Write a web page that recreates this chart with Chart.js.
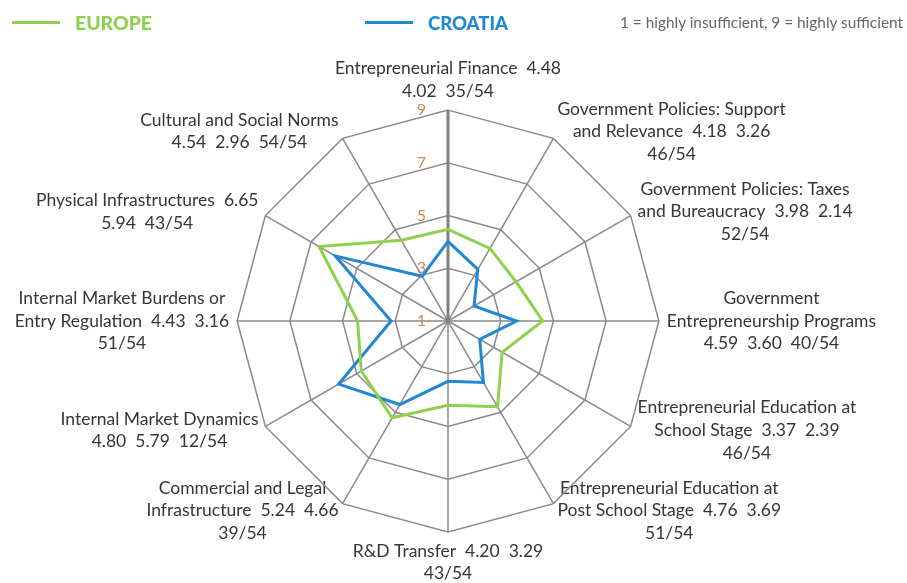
<!DOCTYPE html>
<html>
<head>
<meta charset="utf-8">
<script src="https://cdn.jsdelivr.net/npm/chart.js@4.4.1/dist/chart.umd.min.js"></script>
<style>
  html, body { margin: 0; padding: 0; background: #ffffff; }
  #wrap { position: relative; width: 907px; height: 583px; overflow: hidden; }
  #c { position: absolute; left: 0; top: 0; }
  .hdr { position: absolute; font-family: Lato, sans-serif; white-space: nowrap; line-height: 1; }
  .sw { position: absolute; height: 3px; }
  .txt { position: absolute; transform-origin: 0 50%; display: inline-block; }
</style>
</head>
<body>
<div id="wrap">
  <canvas id="c" width="907" height="583"></canvas>
  <div class="sw" id="sw0" style="left:12px; top:21px; width:48px;"></div>
  <div class="txt hdr" id="lg0" style="left:75px; top:13px; font-size:19px; font-weight:900;"></div>
  <div class="sw" id="sw1" style="left:365px; top:21px; width:48px;"></div>
  <div class="txt hdr" id="lg1" style="left:428px; top:13px; font-size:19px; font-weight:900;"></div>
  <div class="txt hdr" id="note" style="left:620px; top:14px; font-size:16px; color:#666666;"></div>
</div>
<script>
// label lines as printed in the reference: category name, Europe score, Croatia score, Croatia rank
const labelLines = [
  ["Entrepreneurial Finance  4.48", "4.02  35/54"],
  ["Government Policies: Support", "and Relevance  4.18  3.26", "46/54"],
  ["Government Policies: Taxes", "and Bureaucracy  3.98  2.14", "52/54"],
  ["Government", "Entrepreneurship Programs", "4.59  3.60  40/54"],
  ["Entrepreneurial Education at", "School Stage  3.37  2.39", "46/54"],
  ["Entrepreneurial Education at", "Post School Stage  4.76  3.69", "51/54"],
  ["R&D Transfer  4.20  3.29", "43/54"],
  ["Commercial and Legal", "Infrastructure  5.24  4.66", "39/54"],
  ["Internal Market Dynamics", "4.80  5.79  12/54"],
  ["Internal Market Burdens or", "Entry Regulation  4.43  3.16", "51/54"],
  ["Physical Infrastructures  6.65", "5.94  43/54"],
  ["Cultural and Social Norms", "4.54  2.96  54/54"]
];
const seriesNames = ["EUROPE", "CROATIA"];
const europe  = [4.48, 4.18, 3.98, 4.59, 3.37, 4.76, 4.20, 5.24, 4.80, 4.43, 6.65, 4.54];
const croatia = [4.02, 3.26, 2.14, 3.60, 2.39, 3.69, 3.29, 4.66, 5.79, 3.16, 5.94, 2.96];
const tickValues = [1, 3, 5, 7, 9];
const scaleNote = "1 = highly insufficient, 9 = highly sufficient";

const GREEN = "#8fd14f";
const BLUE = "#1f88d0";

function fitText(id, text, color, width) {
  const el = document.getElementById(id);
  el.textContent = text;
  if (color) el.style.color = color;
  const w = el.getBoundingClientRect().width;
  el.style.transform = "scaleX(" + (width / w) + ")";
}
document.getElementById("sw0").style.background = GREEN;
document.getElementById("sw1").style.background = BLUE;
fitText("lg0", seriesNames[0], GREEN, 77);
fitText("lg1", seriesNames[1], BLUE, 80);
fitText("note", scaleNote, null, 283);

// place point labels like the original: lines centred in each block,
// side labels vertically centred on their spoke, a small gap from the outer ring
const LABEL_GAP = 8;
const placeLabels = {
  id: "placeLabels",
  beforeDraw(chart) {
    const s = chart.scales.r;
    (s._pointLabelItems || []).forEach((it, i) => {
      const w = it.right - it.left, h = it.bottom - it.top;
      const deg = Math.round(s.getIndexAngle(i) * 180 / Math.PI) % 360;
      const p = s.getPointPosition(i, s.drawingArea + LABEL_GAP);
      let cx = p.x, top;
      if (deg === 0) { top = p.y - h; }
      else if (deg === 180) { top = p.y; }
      else {
        top = p.y - h / 2;
        cx = deg < 180 ? p.x + w / 2 : p.x - w / 2;
      }
      it.x = cx; it.y = top; it.textAlign = "center";
      it.left = cx - w / 2; it.right = cx + w / 2; it.top = top; it.bottom = top + h;
    });
  }
};

new Chart(document.getElementById("c"), {
  type: "radar",
  data: {
    labels: labelLines,
    datasets: [
      { label: seriesNames[0], data: europe, borderColor: GREEN, borderWidth: 3, fill: false, pointRadius: 0, pointHoverRadius: 0, tension: 0 },
      { label: seriesNames[1], data: croatia, borderColor: BLUE, borderWidth: 3, fill: false, pointRadius: 0, pointHoverRadius: 0, tension: 0 }
    ]
  },
  plugins: [placeLabels],
  options: {
    responsive: false,
    animation: false,
    layout: { padding: { top: 59, bottom: 0, left: 0, right: 16 } },
    plugins: { legend: { display: false }, tooltip: { enabled: false } },
    scales: {
      r: {
        min: 1, max: 9,
        // first tick is never labelled by Chart.js, so the centre value is listed once more
        afterBuildTicks: (s) => { s.ticks = [tickValues[0]].concat(tickValues).map(v => ({ value: v })); },
        ticks: {
          color: "#c8894f",
          font: { family: "Lato", size: 16 },
          showLabelBackdrop: false,
          backdropPadding: 0,
          callback: (v) => v + " ".repeat(13),
          z: 1
        },
        grid: { color: "#8a8a8a", lineWidth: 1.5 },
        angleLines: {
          color: (ctx) => ctx.index === 0 ? "#7f7f7f" : "#8a8a8a",
          lineWidth: (ctx) => ctx.index === 0 ? 3 : 1.5
        },
        pointLabels: {
          color: "#363636",
          font: { family: "Lato", size: 17.5, lineHeight: 1.29 },
          padding: -2
        }
      }
    }
  }
});
</script>
</body>
</html>
